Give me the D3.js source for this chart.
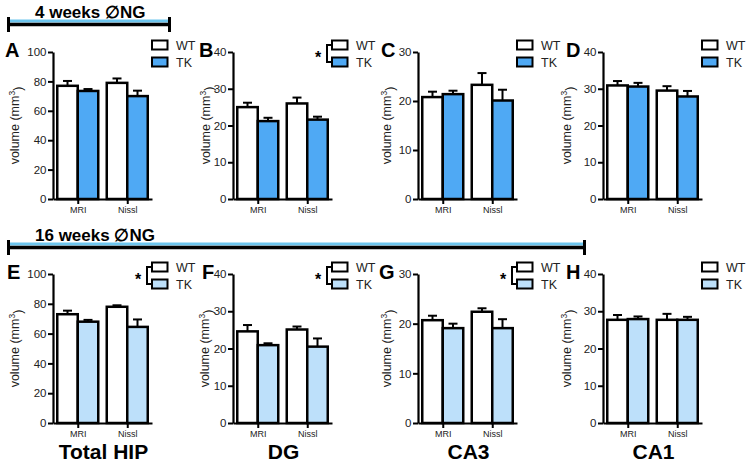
<!DOCTYPE html>
<html><head><meta charset="utf-8">
<script src="https://cdn.jsdelivr.net/npm/d3@7"></script>
<style>
html,body{margin:0;padding:0;background:#fff;}
text{font-family:"Liberation Sans",Arial,Helvetica,sans-serif;}
</style></head>
<body>
<svg id="chart" width="751" height="466"></svg>
<script>
// ---- data ----
const panelLetters = ["A","B","C","D","E","F","G","H"];
const regions = ["Total HIP","DG","CA3","CA1"];
const methods = ["MRI","Nissl"];
const groups = ["WT","TK"];
const cohorts = ["4 weeks \u2205NG","16 weeks \u2205NG"];
const yMax = [100,40,30,40,100,40,30,40];
const yStep = [20,10,10,10,20,10,10,10];
const wtMean = [[77,79],[25,26],[20.8,23.3],[30.9,29.5],[73,78],[24.6,25.1],[20.7,22.4],[27.7,27.7]];
const wtSem  = [[3.3,3],[1.2,1.6],[1.1,2.4],[1.2,1.2],[2.4,1.0],[1.7,0.8],[0.9,0.7],[1.3,1.6]];
const tkMean = [[73.5,70],[21.2,21.6],[21.4,20.1],[30.6,27.9],[68,64.5],[20.9,20.5],[19.1,19.1],[27.9,27.7]];
const tkSem  = [[1.3,3.7],[0.9,0.8],[0.7,2.2],[1.0,1.5],[1.2,5.0],[0.5,2.2],[0.9,1.8],[0.7,0.8]];
const significant = [false,true,false,false,true,true,true,false];

// ---- layout ----
const svg = d3.select("#chart");
const axisX = [53,233,418,603];
const rowTop = [52,274], rowBot = [199,423];
const letterDx = [-48,-34,-37,-37,-46,-31,-39,-37];
const ylabDx = [-38,-27,-31,-36,-38,-28,-31,-36];
const tkColor = ["#4fa9f4","#bde0fa"];
const headerBlue = "#6cc5ee";
const plotW = 99, barW = 20.5;

// headers
const headerEnd = [170,585];
const headerDy = [0,223];
cohorts.forEach((c,i)=>{
  const dy = headerDy[i];
  svg.append("text").attr("x",35).attr("y",18+dy).attr("font-size",17).attr("font-weight","bold").attr("fill","#000").text(c);
  svg.append("line").attr("x1",8).attr("x2",headerEnd[i]).attr("y1",21+dy).attr("y2",21+dy).attr("stroke",headerBlue).attr("stroke-width",3);
  svg.append("line").attr("x1",8).attr("x2",headerEnd[i]).attr("y1",24.5+dy).attr("y2",24.5+dy).attr("stroke","#000").attr("stroke-width",3.5);
  [8.5,headerEnd[i]-0.5].forEach(x=>{
    svg.append("line").attr("x1",x).attr("x2",x).attr("y1",17+dy).attr("y2",32+dy).attr("stroke","#000").attr("stroke-width",3);
  });
});

panelLetters.forEach((L,p)=>{
  const row = p<4?0:1, col = p%4;
  const ax = axisX[col];
  const g = svg.append("g").attr("transform",`translate(${ax},0)`);
  const y = d3.scaleLinear().domain([0,yMax[p]]).range([rowBot[row],rowTop[row]]);
  const x = d3.scalePoint().domain(methods).range([0,plotW]).padding(0.5);

  // bars
  methods.forEach((m,mi)=>{
    const c = x(m);
    const specs = [
      {x0:c-barW, v:wtMean[p][mi], e:wtSem[p][mi], fill:"#fff"},
      {x0:c, v:tkMean[p][mi], e:tkSem[p][mi], fill:tkColor[row]}
    ];
    specs.forEach(s=>{
      const cx = s.x0+barW/2;
      g.append("line").attr("x1",cx).attr("x2",cx).attr("y1",y(s.v)).attr("y2",y(s.v+s.e)).attr("stroke","#000").attr("stroke-width",2);
      g.append("line").attr("x1",cx-4.5).attr("x2",cx+4.5).attr("y1",y(s.v+s.e)).attr("y2",y(s.v+s.e)).attr("stroke","#000").attr("stroke-width",2);
      g.append("rect").attr("x",s.x0).attr("y",y(s.v)).attr("width",barW).attr("height",y(0)-y(s.v))
        .attr("fill",s.fill).attr("stroke","#000").attr("stroke-width",2.5);
    });
  });

  // y axis
  const ya = g.append("g").call(d3.axisLeft(y).tickValues(d3.range(0,yMax[p]+0.1,yStep[p])).tickSize(5).tickSizeOuter(0).tickPadding(1.5));
  ya.select(".domain").attr("stroke","#000").attr("stroke-width",2.2);
  ya.selectAll(".tick line").attr("stroke","#000").attr("stroke-width",2);
  ya.selectAll(".tick text").attr("font-size",11.5).attr("fill","#222").attr("font-family","Liberation Sans, Arial, sans-serif");

  // x axis
  const xa = g.append("g").attr("transform",`translate(0,${y(0)})`).call(d3.axisBottom(x).tickSize(5).tickSizeOuter(0).tickPadding(3));
  xa.select(".domain").attr("stroke","#000").attr("stroke-width",2.2);
  xa.selectAll(".tick line").attr("stroke","#000").attr("stroke-width",2);
  xa.selectAll(".tick text").attr("font-size",9).attr("fill","#222").attr("font-family","Liberation Sans, Arial, sans-serif");

  // y label
  const midY = (rowTop[row]+rowBot[row])/2;
  const yl = g.append("text").attr("transform",`translate(${ylabDx[p]},${midY}) rotate(-90)`).attr("text-anchor","middle")
    .attr("font-size",12.5).attr("fill","#222");
  yl.append("tspan").attr("dy","0.35em").text("volume (mm");
  yl.append("tspan").attr("font-size",8.5).attr("dy","-0.55em").text("3");
  yl.append("tspan").attr("dy","0.55em").text(")");

  // panel letter
  g.append("text").attr("x",letterDx[p]).attr("y",row===0?57:279).attr("font-size",20).attr("font-weight","bold").attr("fill","#000").text(L);

  // legend
  const ly = [rowTop[row]-7, rowTop[row]+10];
  groups.forEach((gr,gi)=>{
    g.append("rect").attr("x",99).attr("y",ly[gi]-4.5).attr("width",15.5).attr("height",9)
      .attr("fill",gi===0?"#fff":tkColor[row]).attr("stroke","#000").attr("stroke-width",2);
    g.append("text").attr("x",123).attr("y",ly[gi]+4.5).attr("font-size",12.5).attr("fill","#222").text(gr);
  });
  if(significant[p]){
    g.append("path").attr("d",`M99,${ly[0]}H94V${ly[1]}H99`).attr("fill","none").attr("stroke","#000").attr("stroke-width",2);
    g.append("text").attr("x",85).attr("y",(ly[0]+ly[1])/2+9).attr("text-anchor","middle").attr("font-size",16).attr("font-weight","bold").attr("fill","#000").text("*");
  }

  // region label
  if(row===1){
    g.append("text").attr("x",plotW/2+1).attr("y",459).attr("text-anchor","middle").attr("font-size",21).attr("font-weight","bold").attr("fill","#000").text(regions[col]);
  }
});
</script>
</body></html>
